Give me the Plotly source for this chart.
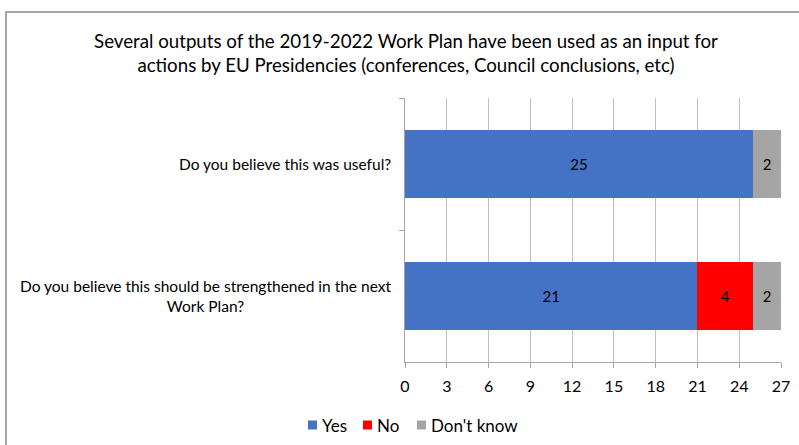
import plotly.graph_objects as go

# Survey responses
questions = [
    "Do you believe this was useful?",
    "Do you believe this should be strengthened in the next<br>Work Plan?",
]
yes_counts = [25, 21]
no_counts = [0, 4]
dont_know_counts = [2, 2]
x_ticks = [0, 3, 6, 9, 12, 15, 18, 21, 24, 27]

title_text = ("Several outputs of the 2019-2022 Work Plan have been used as an input for<br>"
              "actions by EU Presidencies (conferences, Council conclusions, etc)")

FONT = "Lato"
W, H = 799, 445
L, R, T, B = 405, 18, 98, 83
pw, ph = W - L - R, H - T - B
series = [
    ("Yes", yes_counts, "#4472C4"),
    ("No", no_counts, "#FF0000"),
    ("Don't know", dont_know_counts, "#A5A5A5"),
]


def px_x(v):
    return (v - L) / pw


def px_y(v):
    return (H - B - v) / ph


fig = go.Figure()
for name, vals, color in series:
    fig.add_trace(go.Bar(
        y=questions,
        x=vals,
        name=name,
        orientation="h",
        marker=dict(color=color, line=dict(width=0)),
        text=[str(v) if v else "" for v in vals],
        textposition="inside",
        insidetextanchor="middle",
        textangle=0,
        textfont=dict(family=FONT, size=15, color="#000000"),
        hoverinfo="x+name",
        showlegend=False,
    ))

# Category labels, centred line by line
for q in questions:
    fig.add_annotation(
        x=-0.033, xref="paper", y=q, yref="y",
        text=q, showarrow=False, xanchor="right", yanchor="middle",
        align="center", font=dict(family=FONT, size=15.5, color="#000000"),
    )

# Compact legend below the axis: small swatch followed by its label
legend_left = [308, 363, 417]
swatch = 9
legend_mid = 425
for (name, _, color), x0 in zip(series, legend_left):
    fig.add_shape(type="rect", xref="paper", yref="paper",
                  x0=px_x(x0), x1=px_x(x0 + swatch),
                  y0=px_y(legend_mid + swatch / 2), y1=px_y(legend_mid - swatch / 2),
                  line=dict(width=0), fillcolor=color)
    fig.add_annotation(x=px_x(x0 + swatch + 3), xref="paper", y=px_y(legend_mid), yref="paper",
                       text=name, showarrow=False, xanchor="left", yanchor="middle",
                       font=dict(family=FONT, size=17, color="#000000"))

# Outer chart frame (top and left edges fall inside the canvas)
fig.add_shape(type="rect", xref="paper", yref="paper",
              x0=px_x(6), x1=px_x(900), y0=px_y(600), y1=px_y(12),
              line=dict(color="#8C8C8C", width=1.5), fillcolor="rgba(0,0,0,0)", layer="below")

fig.update_layout(
    barmode="stack",
    bargap=0.48,
    width=W, height=H,
    margin=dict(l=L, r=R, t=T, b=B, autoexpand=False),
    paper_bgcolor="white",
    plot_bgcolor="white",
    font=dict(family=FONT, size=14, color="#000000"),
    title=dict(text=title_text, x=406 / W, xanchor="center", xref="container",
               y=1 - 48 / H, yanchor="middle",
               font=dict(family=FONT, size=18.7, color="#000000")),
    showlegend=False,
    uniformtext=dict(mode="show", minsize=10),
)

fig.update_xaxes(
    range=[0, 27], tickvals=x_ticks, ticktext=[str(t) for t in x_ticks],
    showgrid=True, gridcolor="#BFBFBF", gridwidth=1,
    showline=True, linecolor="#A6A6A6", linewidth=1,
    ticks="outside", ticklen=5, tickcolor="#A6A6A6", ticklabelstandoff=5,
    tickfont=dict(family=FONT, size=16, color="#000000"),
    zeroline=False, fixedrange=True,
)
fig.update_yaxes(
    autorange="reversed", categoryorder="array", categoryarray=questions,
    showticklabels=False, showline=True, linecolor="#A6A6A6", linewidth=1,
    ticks="outside", ticklen=5, tickcolor="#A6A6A6", tickson="boundaries",
    showgrid=False, zeroline=False, fixedrange=True,
)

fig.write_html("out.html")
